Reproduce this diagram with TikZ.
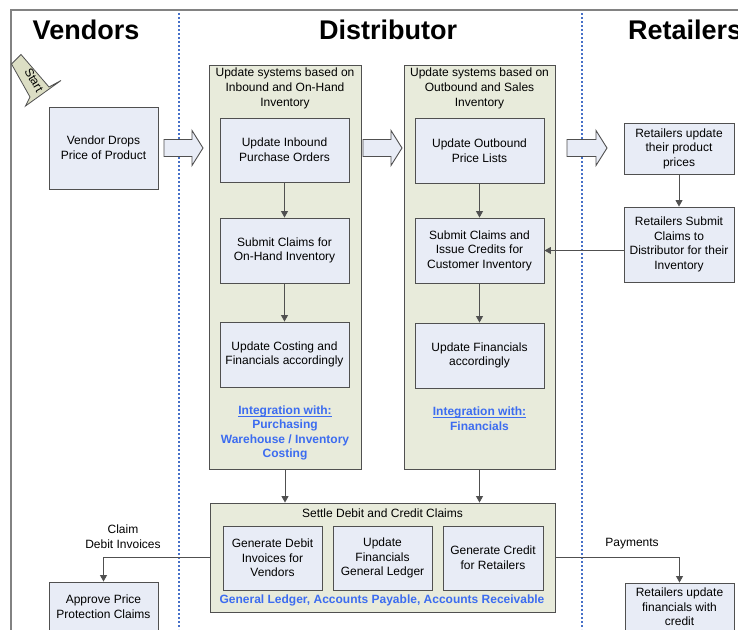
\documentclass[tikz,border=0pt]{standalone}
\usepackage{fontspec}
\setmainfont{Liberation Sans}
\usetikzlibrary{arrows.meta}

\definecolor{boxfill}{RGB}{232,236,246}
\definecolor{grpfill}{RGB}{232,235,219}
\definecolor{edgecol}{RGB}{80,80,80}
\definecolor{lanecol}{RGB}{70,112,200}
\definecolor{framecol}{RGB}{130,130,130}
\definecolor{startfill}{RGB}{220,222,196}
\definecolor{linkblue}{RGB}{60,108,240}

% hand-off block arrow: from x=#1 to tip x=#2, centred on y=#3
\newcommand\blkarrow[3]{%
  \draw[blockarrow] (#1,#3-8.5) -- (#2-11,#3-8.5) -- (#2-11,#3-17.5) -- (#2,#3)
    -- (#2-11,#3+17.5) -- (#2-11,#3+8.5) -- (#1,#3+8.5) -- cycle;}

% close underline for link headings
\newcommand\ulhead[1]{{\setbox0\hbox{#1}\rlap{\rule[-2.2pt]{\wd0}{0.8pt}}\box0}}

\begin{document}
\begin{tikzpicture}[x=1pt,y=-1pt,
  txt/.style={font=\fontsize{12}{14.6}\selectfont, align=center, inner sep=0pt},
  stepbox/.style={txt, draw=edgecol, fill=boxfill, line width=0.9pt},
  grpbox/.style={draw=edgecol, fill=grpfill, line width=0.9pt, inner sep=0pt},
  title/.style={font=\fontsize{27}{30}\selectfont\bfseries, inner sep=0pt, anchor=base},
  link/.style={font=\fontsize{12}{14.6}\selectfont\bfseries, text=linkblue, align=center, inner sep=0pt},
  lane/.style={lanecol, line width=1.6pt, dash pattern=on 1.8pt off 2.2pt},
  flow/.style={edgecol, line width=0.9pt, -{Triangle[width=7pt,length=6.5pt]}},
  blockarrow/.style={draw=edgecol, fill=boxfill, line width=0.9pt, line join=miter},
]
\useasboundingbox (0,0) rectangle (738,629);
\clip (0,0) rectangle (738,629);
\fill[white] (0,0) rectangle (738,629);

% outer frame and swimlane separators
\draw[framecol, line width=1.6pt] (11,10) rectangle (780,680);
\draw[lane] (179,13) -- (179,629);
\draw[lane] (582,13) -- (582,629);

% lane titles
\node[title] (tv) at (86,39) {Vendors};
\node[title] (td) at (388,39) {Distributor};
\node[title, anchor=base west] (tr) at (628,39) {Retailers};

% start marker
\draw[draw=edgecol, fill=startfill, line width=0.8pt, line join=miter]
  (11.5,64) -- (21,54.5) -- (49,87) -- (61,80.5) -- (25.5,106) -- (30,97) -- cycle;
\node[txt, rotate=-60] (start) at (34,80) {Start};

% vendor lane
\node[stepbox, minimum width=109pt, minimum height=82pt] (vend) at (103.5,148)
  {Vendor Drops\\Price of Product};

% distributor: inbound group
\node[grpbox, minimum width=152pt, minimum height=404pt] (g1) at (285,267) {};
\node[txt, anchor=north] (g1t) at (285,68)
  {Update systems based on\\Inbound and On-Hand\\Inventory};
\node[stepbox, minimum width=129pt, minimum height=64pt] (b11) at (284.5,150)
  {Update Inbound\\Purchase Orders};
\node[stepbox, minimum width=129pt, minimum height=65pt] (b12) at (284.5,250.5)
  {Submit Claims for\\On-Hand Inventory};
\node[stepbox, minimum width=129pt, minimum height=65pt] (b13) at (284.5,354.5)
  {Update Costing and\\Financials accordingly};
\node[link] (g1l) at (285,433)
  {\ulhead{Integration with:}\\Purchasing\\Warehouse / Inventory\\Costing};

% distributor: outbound group
\node[grpbox, minimum width=151pt, minimum height=404pt] (g2) at (479.5,267) {};
\node[txt, anchor=north] (g2t) at (479.5,68)
  {Update systems based on\\Outbound and Sales\\Inventory};
\node[stepbox, minimum width=129pt, minimum height=65pt] (b21) at (479.5,150.5)
  {Update Outbound\\Price Lists};
\node[stepbox, minimum width=129pt, minimum height=65pt] (b22) at (479.5,250.5)
  {Submit Claims and\\Issue Credits for\\Customer Inventory};
\node[stepbox, minimum width=129pt, minimum height=65pt] (b23) at (479.5,355.5)
  {Update Financials\\accordingly};
\node[link] (g2l) at (479.5,418.5)
  {\ulhead{Integration with:}\\Financials};

% distributor: settlement group
\node[grpbox, minimum width=345pt, minimum height=109pt] (set) at (382.5,557.5) {};
\node[txt] (sett) at (382.5,513) {Settle Debit and Credit Claims};
\node[stepbox, minimum width=99pt, minimum height=64pt] (s1) at (272.5,558)
  {Generate Debit\\Invoices for\\Vendors};
\node[stepbox, minimum width=99pt, minimum height=64pt] (s2) at (382.5,558)
  {Update\\Financials\\General Ledger};
\node[stepbox, minimum width=100pt, minimum height=64pt] (s3) at (493,558)
  {Generate Credit\\for Retailers};
\node[link] (setl) at (382,600.5)
  {General Ledger, Accounts Payable, Accounts Receivable};

% retailer lane
\node[stepbox, minimum width=110pt, minimum height=51pt] (r1) at (679,148.5)
  {Retailers update\\their product\\prices};
\node[stepbox, minimum width=110pt, minimum height=75pt] (r2) at (679,244.5)
  {Retailers Submit\\Claims to\\Distributor for their\\Inventory};
\node[stepbox, minimum width=109pt, minimum height=48pt] (r3) at (679.5,607)
  {Retailers update\\financials with\\credit};

% vendor settlement box
\node[stepbox, minimum width=109pt, minimum height=50pt] (appr) at (103.5,607)
  {Approve Price\\Protection Claims};

% hand-off block arrows between lanes
\blkarrow{164}{203}{148}
\blkarrow{363}{402}{148}
\blkarrow{567}{607}{148}

% flows inside groups
\draw[flow] (b11) -- (b12);
\draw[flow] (b12) -- (b13);
\draw[flow] (b21) -- (b22);
\draw[flow] (b22) -- (b23);
\draw[flow] (r1) -- (r2);
\draw[flow] (b22.east -| r2.west) -- (b22.east);

% into settlement
\draw[flow] (g1.south) -- (g1.south |- set.north);
\draw[flow] (g2.south) -- (g2.south |- set.north);

% out of settlement
\draw[flow] (set.west) -| (appr.north);
\draw[flow] (set.east) -| (r3.north);
\node[txt] (lclaim) at (123,536.5) {Claim\\Debit Invoices};
\node[txt] (lpay) at (632,543.5) {Payments};
\end{tikzpicture}
\end{document}
